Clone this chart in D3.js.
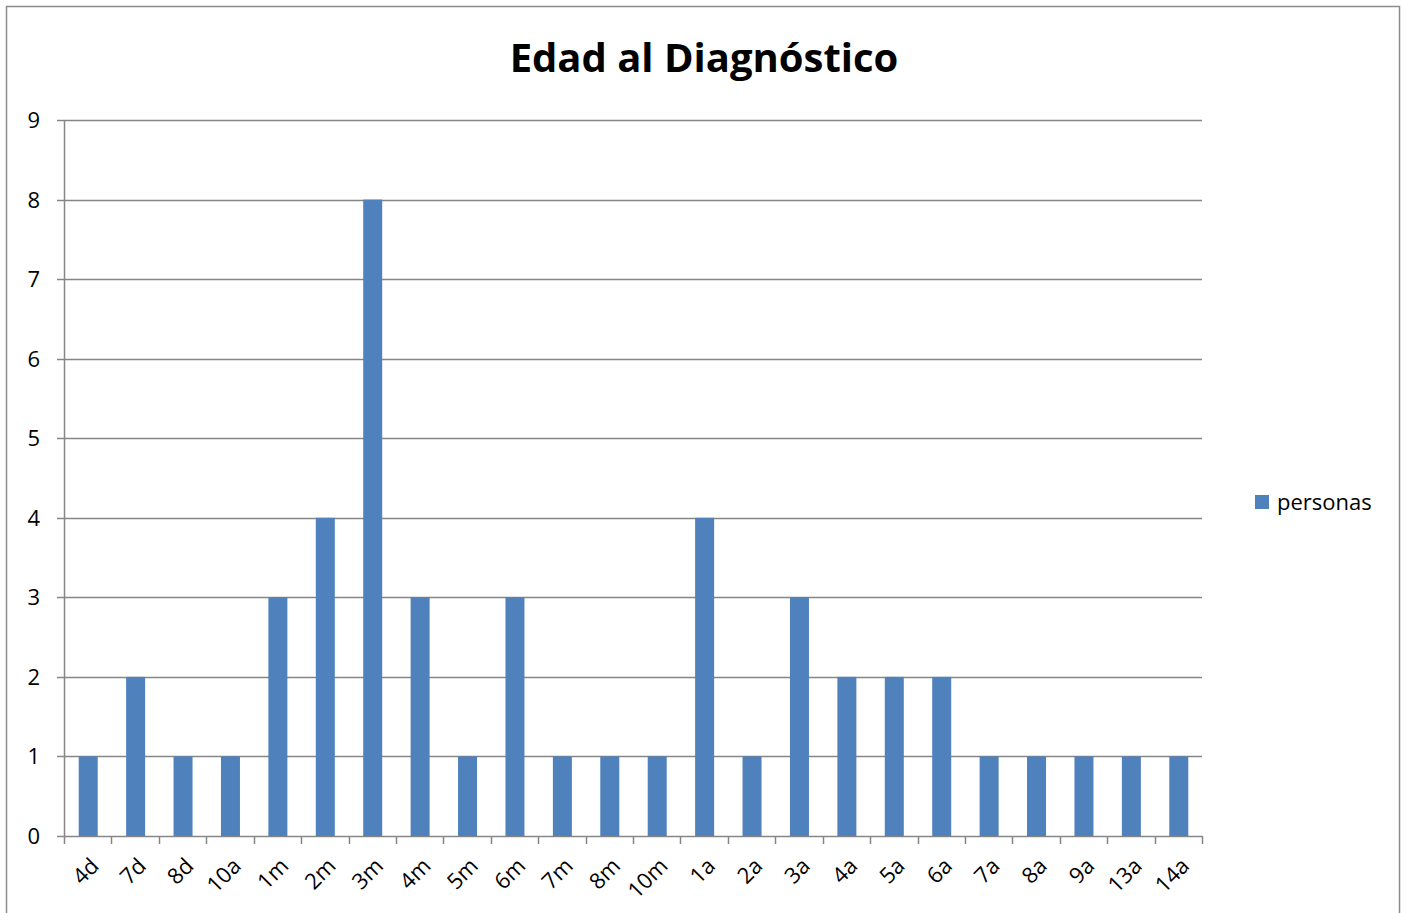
<!DOCTYPE html>
<html>
<head>
<meta charset="utf-8">
<script src="https://cdn.jsdelivr.net/npm/d3@7"></script>
<style>
  body { margin: 0; background: #fff; }
  text { font-family: "Open Sans", "Noto Sans", sans-serif; fill: #000; }
</style>
</head>
<body>
<div id="chart"></div>
<script>
'use strict';

// Data.
var categories = ['4d','7d','8d','10a','1m','2m','3m','4m','5m','6m','7m','8m','10m',
                  '1a','2a','3a','4a','5a','6a','7a','8a','9a','13a','14a'];
var personas = [1,2,1,1,3,4,8,3,1,3,1,1,1,4,1,3,2,2,2,1,1,1,1,1];
var yTicks = [0,1,2,3,4,5,6,7,8,9];

var width = 1406, height = 913;
var plot = { left: 64, right: 1202, top: 120, bottom: 836 };
var barColor = '#4f81bd';
var gridColor = '#868686';

var svg = d3.select('#chart').append('svg')
    .attr('width', width)
    .attr('height', height);

// outer frame of the chart
svg.append('rect')
  .attr('x', 6.5).attr('y', 6.5)
  .attr('width', 1393).attr('height', 920)
  .attr('fill', 'none')
  .attr('stroke', '#8c8c8c')
  .attr('stroke-width', 1.5);

svg.append('text')
  .attr('x', 704).attr('y', 72)
  .attr('text-anchor', 'middle')
  .style('font-size', '40px')
  .style('font-weight', 'bold')
  .text('Edad al Diagnóstico');

var x = d3.scaleBand().domain(categories).range([plot.left, plot.right]);
var y = d3.scaleLinear().domain([0, 9]).range([plot.bottom, plot.top]);

// horizontal gridlines
svg.append('g').selectAll('line')
  .data(yTicks)
  .enter().append('line')
  .attr('x1', plot.left - 7).attr('x2', plot.right)
  .attr('y1', function (d) { return Math.round(y(d)) + 0.5; })
  .attr('y2', function (d) { return Math.round(y(d)) + 0.5; })
  .attr('stroke', gridColor)
  .attr('stroke-width', 1.5);

// y axis labels
svg.append('g').selectAll('text')
  .data(yTicks)
  .enter().append('text')
  .attr('x', 40)
  .attr('y', function (d) { return y(d) + 8; })
  .attr('text-anchor', 'end')
  .style('font-size', '22px')
  .text(function (d) { return d; });

// bars
var barW = 19;
svg.append('g').selectAll('rect')
  .data(personas)
  .enter().append('rect')
  .attr('x', function (d, i) { return x(categories[i]) + x.bandwidth() / 2 - barW / 2 + 0.5; })
  .attr('y', function (d) { return y(d); })
  .attr('width', barW)
  .attr('height', function (d) { return y(0) - y(d); })
  .attr('fill', barColor);

// y axis line
svg.append('line')
  .attr('x1', plot.left + 0.5).attr('x2', plot.left + 0.5)
  .attr('y1', plot.top).attr('y2', plot.bottom)
  .attr('stroke', gridColor).attr('stroke-width', 1.5);

// x axis ticks at band edges
var edges = categories.map(function (c) { return x(c); }).concat([plot.right]);
svg.append('g').selectAll('line')
  .data(edges)
  .enter().append('line')
  .attr('x1', function (d) { return Math.round(d) + 0.5; })
  .attr('x2', function (d) { return Math.round(d) + 0.5; })
  .attr('y1', plot.bottom).attr('y2', plot.bottom + 8)
  .attr('stroke', gridColor).attr('stroke-width', 1.5);

// rotated category labels
svg.append('g').selectAll('text')
  .data(categories)
  .enter().append('text')
  .attr('text-anchor', 'end')
  .attr('transform', function (d) {
    return 'translate(' + (x(d) + x.bandwidth() / 2 + 7) + ',' + (plot.bottom + 26) + ') rotate(-45)';
  })
  .attr('dy', '0.35em')
  .style('font-size', '22px')
  .text(function (d) { return d; });

// legend
var legend = svg.append('g').attr('transform', 'translate(1255,495)');
legend.append('rect')
  .attr('width', 14).attr('height', 14)
  .attr('fill', barColor);
legend.append('text')
  .attr('x', 22).attr('y', 15)
  .style('font-size', '22px')
  .text('personas');
</script>
</body>
</html>
